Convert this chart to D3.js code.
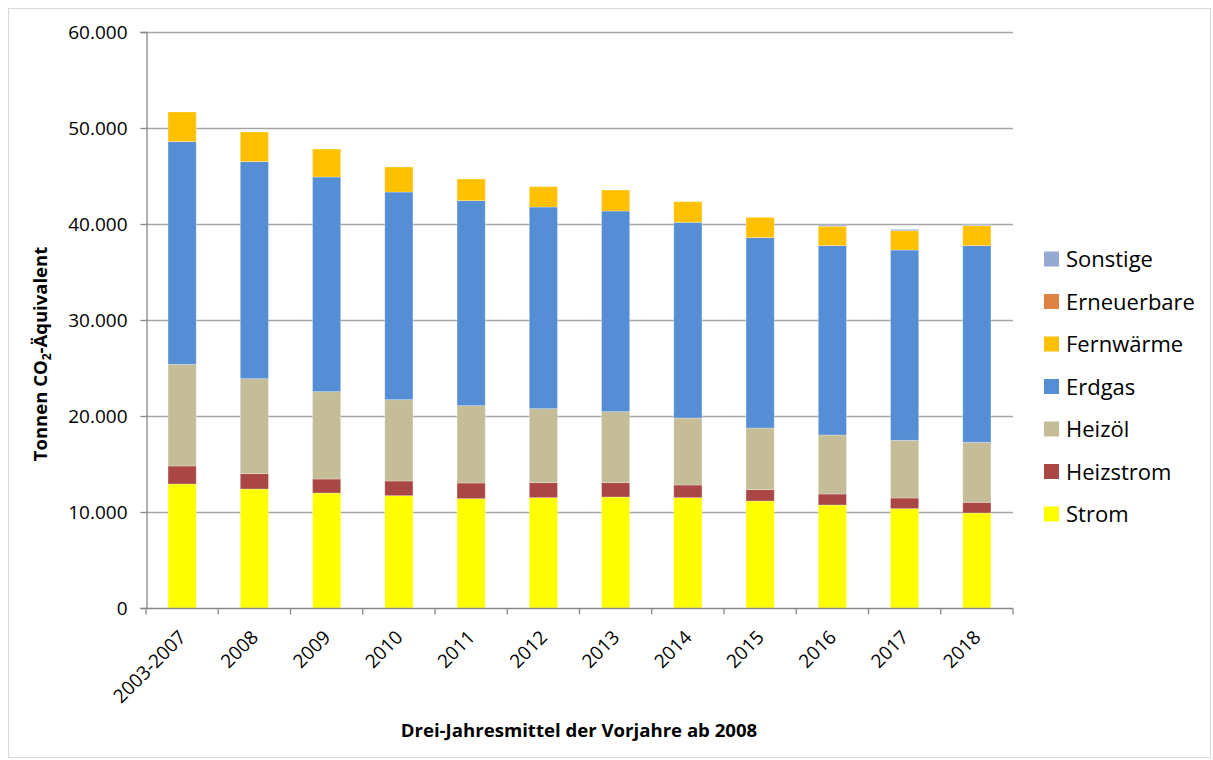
<!DOCTYPE html>
<html>
<head>
<meta charset="utf-8">
<script src="https://cdn.jsdelivr.net/npm/d3@7"></script>
<style>
  html, body { margin: 0; padding: 0; background: #fff; }
  svg { display: block; font-family: "Open Sans", sans-serif; }
</style>
</head>
<body>
<svg id="chart" width="1213" height="760"></svg>
<script>
const categories = ["2003-2007","2008","2009","2010","2011","2012","2013","2014","2015","2016","2017","2018"];
const strom       = [12917,12396,11979,11701,11389,11493,11563,11493,11146,10729,10347,9896];
const heizstrom   = [1875,1597,1459,1528,1632,1563,1493,1320,1180,1146,1111,1111];
const heizoel     = [10594,9896,9097,8472,8055,7708,7395,6979,6424,6146,6007,6250];
const erdgas      = [23190,22604,22361,21632,21355,21007,20903,20382,19826,19722,19827,20486];
const fernwaerme  = [3092,3090,2917,2605,2257,2118,2188,2152,2118,2020,2010,2083];
const erneuerbare = [0,0,0,0,0,0,0,0,0,0,0,0];
const sonstige    = [0,0,0,0,0,0,0,0,0,135,140,100];
const yTicks = [0,10000,20000,30000,40000,50000,60000];

const seriesNames  = ["Strom","Heizstrom","Heizöl","Erdgas","Fernwärme","Erneuerbare","Sonstige"];
const seriesValues = [strom,heizstrom,heizoel,erdgas,fernwaerme,erneuerbare,sonstige];
const colors = ["#FFFF00","#AA4643","#C4BD97","#558ED5","#FFC000","#DD8444","#95A9D2"];

const rows = categories.map((c,i) => {
  const r = {cat: c};
  seriesNames.forEach((s,j) => r[s] = seriesValues[j][i]);
  return r;
});

const svg = d3.select("#chart");
const pL = 146, pR = 1013, pT = 32, pB = 608;

svg.append("rect").attr("x",8.5).attr("y",8.5).attr("width",1202).attr("height",749)
  .attr("fill","#fff").attr("stroke","#D9D9D9").attr("stroke-width",1);

const x = d3.scaleBand().domain(categories).range([pL,pR]).padding(0);
const y = d3.scaleLinear().domain([0,60000]).range([pB,pT]);

// gridlines
svg.append("g").selectAll("line").data(yTicks.filter(d=>d>0)).join("line")
  .attr("x1",pL).attr("x2",pR)
  .attr("y1",d=>Math.round(y(d))+0.5).attr("y2",d=>Math.round(y(d))+0.5)
  .attr("stroke","#A6A6A6").attr("stroke-width",1.5);

const stack = d3.stack().keys(seriesNames)(rows);
const bw = x.bandwidth()*0.39;
svg.append("g").selectAll("g").data(stack).join("g")
  .attr("fill",(d,i)=>colors[i])
  .selectAll("rect").data(d=>d).join("rect")
  .attr("x",d=>x(d.data.cat)+(x.bandwidth()-bw)/2)
  .attr("width",bw)
  .attr("y",d=>y(d[1]))
  .attr("height",d=>Math.max(0,y(d[0])-y(d[1])))
  .attr("stroke","rgba(255,255,255,0.35)").attr("stroke-width",0.8);

// y axis
const yAxis = d3.axisLeft(y).tickValues(yTicks).tickSize(6).tickPadding(13)
  .tickFormat(d => d===0 ? "0" : d3.format(",")(d).replace(/,/g,"."));
const gy = svg.append("g").attr("transform",`translate(${pL+0.5},0)`).call(yAxis);
gy.select(".domain").attr("stroke","#878787").attr("stroke-width",1.3);
gy.selectAll(".tick line").attr("stroke","#878787").attr("stroke-width",1.3);
gy.selectAll(".tick text").attr("font-size",19).attr("fill","#000")
  .attr("font-family","Open Sans");

// x axis
const gx = svg.append("g").attr("transform",`translate(0,${pB+0.5})`);
gx.append("line").attr("x1",pL).attr("x2",pR).attr("stroke","#878787").attr("stroke-width",1.3);
const bounds = categories.map(c=>x(c)).concat([pR]);
gx.selectAll("line.tk").data(bounds).join("line").attr("class","tk")
  .attr("x1",d=>d).attr("x2",d=>d).attr("y1",0).attr("y2",6)
  .attr("stroke","#878787").attr("stroke-width",1.3);
gx.selectAll("text").data(categories).join("text")
  .attr("transform",d=>`translate(${x(d)+x.bandwidth()/2+5},30) rotate(-45)`)
  .attr("text-anchor","end").attr("font-size",19).attr("fill","#000")
  .text(d=>d);

// axis titles
svg.append("text").attr("x",579).attr("y",737).attr("text-anchor","middle")
  .attr("font-size",18.6).attr("font-weight","bold").text("Drei-Jahresmittel der Vorjahre ab 2008");

const yt = svg.append("text").attr("transform","translate(47,354) rotate(-90)")
  .attr("text-anchor","middle").attr("font-size",18.5).attr("font-weight","bold");
yt.append("tspan").text("Tonnen CO");
yt.append("tspan").attr("font-size",12).attr("dy",4).text("2");
yt.append("tspan").attr("dy",-4).text("-Äquivalent");

// legend
const legendOrder = seriesNames.map((s,i)=>i).reverse();
const lg = svg.append("g").selectAll("g").data(legendOrder).join("g")
  .attr("transform",(d,k)=>`translate(1044,${259 + k*42.5})`);
lg.append("rect").attr("x",0).attr("y",-7.5).attr("width",15).attr("height",15).attr("fill",d=>colors[d]);
lg.append("text").attr("x",22).attr("y",8).attr("font-size",22).attr("fill","#000").text(d=>seriesNames[d]);
</script>
</body>
</html>
